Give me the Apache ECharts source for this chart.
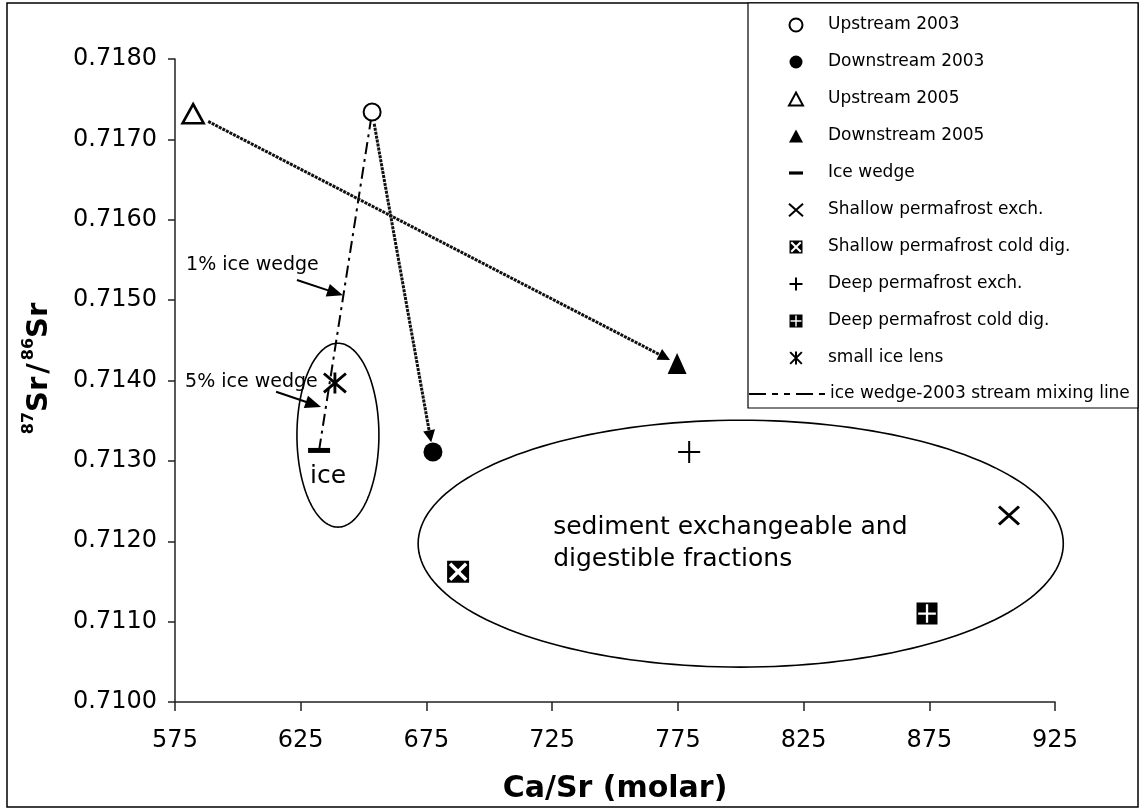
<!DOCTYPE html>
<html>
<head>
<meta charset="utf-8">
<script src="https://cdn.jsdelivr.net/npm/echarts@6/dist/echarts.min.js"></script>
<style>
  html, body { margin: 0; padding: 0; background: #fff; }
  #chart { width: 1142px; height: 810px; }
</style>
</head>
<body>
<div id="chart"></div>
<script>
// ---- Data: [Ca/Sr (molar), 87Sr/86Sr] ----
const upstream2003 = [[653.4, 0.71734]];
const downstream2003 = [[677.6, 0.71311]];
const upstream2005 = [[582.2, 0.71732]];
const downstream2005 = [[774.7, 0.71421]];
const iceWedge = [[632.3, 0.71313]];
const shallowPermafrostExch = [[906.7, 0.71232]];
const shallowPermafrostColdDig = [[687.6, 0.71162]];
const deepPermafrostExch = [[779.5, 0.71311]];
const deepPermafrostColdDig = [[874.1, 0.71110]];
const smallIceLens = [[638.6, 0.71397]];

// Ice wedge -> 2003 upstream water mixing line
const mixingLine = [iceWedge[0], upstream2003[0]];
// Upstream -> downstream shifts for each year
const streamShifts = [
  [upstream2003[0], downstream2003[0]],
  [upstream2005[0], downstream2005[0]]
];

// Ice-wedge fractions marked on the mixing line
const fractionLabels = ['1% ice wedge', '5% ice wedge'];
const fractionLabelAnchors = [[579.4, 0.71544], [579.0, 0.71398]];
const fractionArrowTails = [[623.5, 0.71525], [615.2, 0.71386]];
const fractionPoints = [[641.8, 0.71506], [633.1, 0.71367]];

// Sample groupings: [centre Ca/Sr, centre ratio, half-width Ca/Sr, half-height ratio]
const groupEllipses = [
  [639.8, 0.71332, 16.3, 0.001144],
  [800.0, 0.71197, 128.3, 0.001536]
];
const groupLabels = ['ice', 'sediment exchangeable and\ndigestible fractions'];
const groupLabelAnchors = [[635.9, 0.71280], [725.4, 0.71197]];

// Axis ticks
const xTicks = [575, 625, 675, 725, 775, 825, 875, 925];
const yTicks = [0.7100, 0.7110, 0.7120, 0.7130, 0.7140, 0.7150, 0.7160, 0.7170, 0.7180];

// ---- Drawing ----
const FONT = 'DejaVu Sans';

const SYM = {
  bar: 'path://M0,0H22V5H0Z',
  cross: 'path://M0,0L20,18M20,0L0,18',
  plus: 'path://M10,0V20M0,10H20',
  star: 'path://M1,1L19,19M19,1L1,19M10,0V20',
  boxX: 'path://M0,0H20V20H0Z M1.6,3.8L7.8,10L1.6,16.2L3.8,18.4L10,12.2L16.2,18.4L18.4,16.2L12.2,10L18.4,3.8L16.2,1.6L10,7.8L3.8,1.6Z',
  boxPlus: 'path://M0,0H20V20H0Z M8.9,1.6L8.9,8.9L1.6,8.9L1.6,11.1L8.9,11.1L8.9,18.4L11.1,18.4L11.1,11.1L18.4,11.1L18.4,8.9L11.1,8.9L11.1,1.6Z',
  dashDot: 'path://M0,0H17V2H0Z M23,0H29V2H23Z M35,0H41V2H35Z M47,0H64V2H47Z M70,0H76V2H70Z'
};

function marker(name, data, symbol, size, itemStyle) {
  return {
    type: 'scatter', name: name, data: data, symbol: symbol, symbolSize: size,
    itemStyle: Object.assign({ opacity: 1 }, itemStyle), z: 6, silent: true, animation: false
  };
}

// Arrow drawn between two data points, trimmed in pixels at each end
function arrowRenderer(cfg) {
  return function (params, api) {
    const a = api.coord([api.value(0), api.value(1)]);
    const b = api.coord([api.value(2), api.value(3)]);
    const trim = cfg.trims ? cfg.trims[params.dataIndex] : [0, 0];
    const dx = b[0] - a[0], dy = b[1] - a[1];
    const len = Math.hypot(dx, dy);
    const ux = dx / len, uy = dy / len, nx = -uy, ny = ux;
    const start = [a[0] + ux * trim[0], a[1] + uy * trim[0]];
    const tip = [b[0] - ux * trim[1], b[1] - uy * trim[1]];
    const base = [tip[0] - ux * cfg.headLen, tip[1] - uy * cfg.headLen];
    return {
      type: 'group',
      children: [
        {
          type: 'line',
          shape: { x1: start[0], y1: start[1], x2: base[0] + ux * 2, y2: base[1] + uy * 2 },
          style: { stroke: cfg.color, lineWidth: cfg.width, lineDash: cfg.dash || null, fill: null }
        },
        {
          type: 'polygon',
          shape: { points: [tip,
            [base[0] + nx * cfg.headHalf, base[1] + ny * cfg.headHalf],
            [base[0] - nx * cfg.headHalf, base[1] - ny * cfg.headHalf]] },
          style: { fill: '#000' }
        }
      ]
    };
  };
}

const textSpecs = [
  { size: 19, align: 'left', lineHeight: 22 },
  { size: 19, align: 'left', lineHeight: 22 },
  { size: 25, align: 'center', lineHeight: 30 },
  { size: 25, align: 'left', lineHeight: 32 }
];
const annotationTexts = fractionLabels.concat(groupLabels);
const annotationAnchors = fractionLabelAnchors.concat(groupLabelAnchors);

const chart = echarts.init(document.getElementById('chart'));

chart.setOption({
  animation: false,
  backgroundColor: '#fff',
  grid: { left: 175, right: 87, top: 59, bottom: 108, containLabel: false, outerBoundsMode: 'none' },
  xAxis: {
    type: 'value', min: 575, max: 925,
    name: 'Ca/Sr (molar)', nameLocation: 'middle', nameGap: 72,
    nameTextStyle: { fontFamily: FONT, fontSize: 30, fontWeight: 'bold', color: '#000' },
    axisLine: { show: true, onZero: false, lineStyle: { color: '#222', width: 1.5 } },
    axisTick: { show: true, length: 9, customValues: xTicks, lineStyle: { color: '#222', width: 1.5 } },
    axisLabel: { customValues: xTicks, margin: 27, fontFamily: FONT, fontSize: 24, color: '#000' },
    splitLine: { show: false }
  },
  yAxis: {
    type: 'value', min: 0.7100, max: 0.7180,
    name: '{sup|87}{main|Sr}{slash|/}{sup|86}{main|Sr}',
    nameLocation: 'middle', nameRotate: 90, nameGap: 118,
    nameTextStyle: {
      color: '#000', padding: [0, 0, 0, 24],
      rich: {
        sup: { fontFamily: FONT, fontSize: 16, fontWeight: 'bold', color: '#000', verticalAlign: 'top', lineHeight: 18 },
        main: { fontFamily: FONT, fontSize: 29, fontWeight: 'bold', color: '#000', lineHeight: 36 },
        slash: { fontFamily: FONT, fontSize: 29, fontWeight: 'bold', color: '#000', lineHeight: 36, padding: [0, 3, 0, 3] }
      }
    },
    axisLine: { show: true, onZero: false, lineStyle: { color: '#222', width: 1.5 } },
    axisTick: { show: true, length: 7, customValues: yTicks, lineStyle: { color: '#222', width: 1.5 } },
    axisLabel: {
      customValues: yTicks, margin: 18, fontFamily: FONT, fontSize: 24, color: '#000',
      formatter: function (v) { return v.toFixed(4); }
    },
    splitLine: { show: false }
  },
  legend: [
    {
      data: ['Upstream 2003', 'Downstream 2003', 'Upstream 2005', 'Downstream 2005', 'Ice wedge',
        'Shallow permafrost exch.', 'Shallow permafrost cold dig.', 'Deep permafrost exch.',
        'Deep permafrost cold dig.', 'small ice lens'],
      orient: 'vertical', left: 788, top: 15, padding: 0,
      itemWidth: 14, itemHeight: 13, itemGap: 17, selectedMode: false,
      textStyle: { fontFamily: FONT, fontSize: 17, color: '#000', lineHeight: 20, padding: [0, 0, 0, 20] }
    },
    {
      data: [{ name: 'ice wedge-2003 stream mixing line', icon: SYM.dashDot, itemStyle: { color: '#000' } }],
      orient: 'vertical', left: 749, top: 384, padding: 0,
      itemWidth: 76, itemHeight: 13, selectedMode: false,
      textStyle: { fontFamily: FONT, fontSize: 17, color: '#000', lineHeight: 20 }
    }
  ],
  graphic: [
    { type: 'rect', shape: { x: 7, y: 3, width: 1131, height: 804 }, style: { fill: null, stroke: '#000', lineWidth: 1.5 }, z: -1, silent: true },
    { type: 'rect', shape: { x: 748, y: 3, width: 390, height: 405 }, style: { fill: '#fff', stroke: '#000', lineWidth: 1.2 }, z: -1, silent: true }
  ],
  series: [
    {
      type: 'custom', name: 'groups', silent: true, z: 1, clip: false,
      data: groupEllipses,
      renderItem: function (params, api) {
        const c = api.coord([api.value(0), api.value(1)]);
        const s = api.size([api.value(2) * 2, api.value(3) * 2]);
        const pts = [];
        for (let i = 0; i < 180; i++) {
          const t = (i / 180) * Math.PI * 2;
          pts.push([c[0] + (s[0] / 2) * Math.cos(t), c[1] + (s[1] / 2) * Math.sin(t)]);
        }
        return { type: 'polygon', shape: { points: pts }, style: { fill: null, stroke: '#000', lineWidth: 1.6 } };
      }
    },
    {
      type: 'line', name: 'ice wedge-2003 stream mixing line', data: mixingLine,
      symbol: 'none', z: 2, silent: true, color: '#000',
      itemStyle: { color: '#000' },
      lineStyle: { color: '#000', width: 2, type: [12, 5, 3, 5] }
    },
    {
      type: 'custom', name: 'stream shifts', silent: true, z: 3, clip: false,
      data: streamShifts.map(function (p) { return [p[0][0], p[0][1], p[1][0], p[1][1]]; }),
      renderItem: arrowRenderer({ trims: [[12, 10], [17, 8]], color: '#111', width: 3, dash: [3, 1], headLen: 12, headHalf: 6 })
    },
    {
      type: 'custom', name: 'fraction arrows', silent: true, z: 3, clip: false,
      data: fractionArrowTails.map(function (t, i) { return [t[0], t[1], fractionPoints[i][0], fractionPoints[i][1]]; }),
      renderItem: arrowRenderer({ color: '#000', width: 2, headLen: 16, headHalf: 6.5 })
    },
    {
      type: 'custom', name: 'annotations', silent: true, z: 4, clip: false,
      data: annotationAnchors,
      renderItem: function (params, api) {
        const p = api.coord([api.value(0), api.value(1)]);
        const spec = textSpecs[params.dataIndex];
        return {
          type: 'text', x: p[0], y: p[1],
          style: {
            text: annotationTexts[params.dataIndex], fill: '#000',
            fontFamily: FONT, fontSize: spec.size, lineHeight: spec.lineHeight,
            align: spec.align, verticalAlign: 'middle'
          }
        };
      }
    },
    marker('Upstream 2003', upstream2003, 'circle', 17, { color: '#fff', borderColor: '#000', borderWidth: 2 }),
    marker('Downstream 2003', downstream2003, 'circle', 19, { color: '#000' }),
    marker('Upstream 2005', upstream2005, 'triangle', [21, 19], { color: '#fff', borderColor: '#000', borderWidth: 2.6 }),
    marker('Downstream 2005', downstream2005, 'triangle', [19, 21], { color: '#000' }),
    marker('Ice wedge', iceWedge, SYM.bar, [22, 5], { color: '#000' }),
    marker('Shallow permafrost exch.', shallowPermafrostExch, SYM.cross, [20, 18], { color: '#000', borderColor: '#000', borderWidth: 2.8 }),
    marker('Shallow permafrost cold dig.', shallowPermafrostColdDig, SYM.boxX, [22, 22], { color: '#000' }),
    marker('Deep permafrost exch.', deepPermafrostExch, SYM.plus, [22, 22], { color: '#000', borderColor: '#000', borderWidth: 2 }),
    marker('Deep permafrost cold dig.', deepPermafrostColdDig, SYM.boxPlus, [21, 22], { color: '#000' }),
    marker('small ice lens', smallIceLens, SYM.star, [22, 21], { color: '#000', borderColor: '#000', borderWidth: 2.8 })
  ]
});
</script>
</body>
</html>
